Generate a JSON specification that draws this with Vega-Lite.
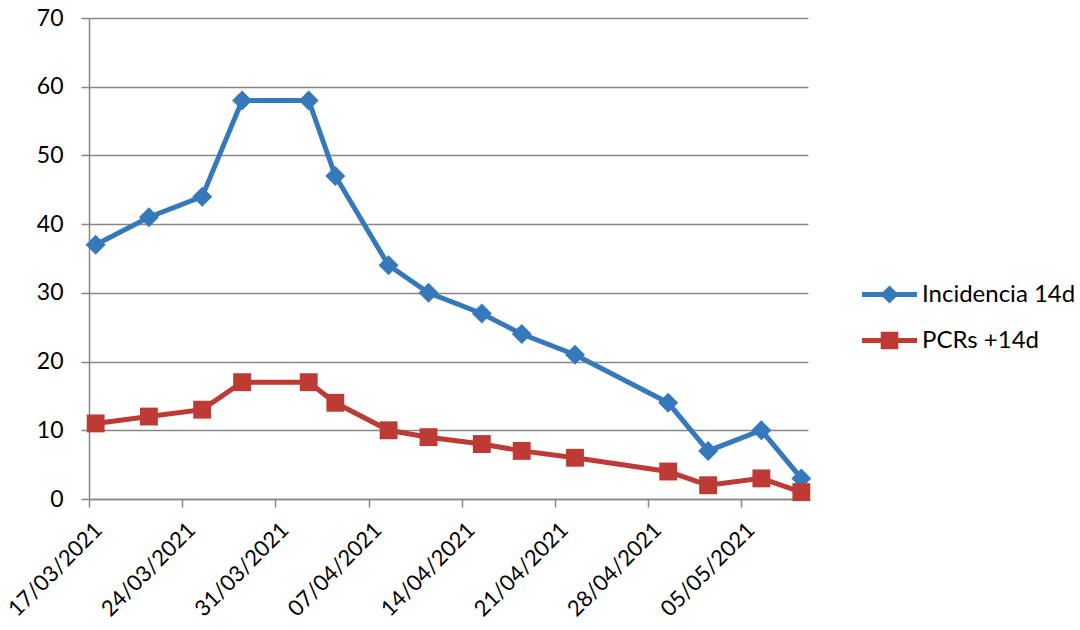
{
  "$schema": "https://vega.github.io/schema/vega-lite/v6.json",
  "width": 719,
  "height": 481,
  "autosize": {"type": "none"},
  "padding": {"left": 89, "top": 18, "right": 272, "bottom": 131},
  "background": "white",
  "config": {"view": {"stroke": null}, "font": "Lato"},
  "data": {
    "values": [
      {"date": "2021-03-17", "serie": "Incidencia 14d", "value": 37},
      {"date": "2021-03-21", "serie": "Incidencia 14d", "value": 41},
      {"date": "2021-03-25", "serie": "Incidencia 14d", "value": 44},
      {"date": "2021-03-28", "serie": "Incidencia 14d", "value": 58},
      {"date": "2021-04-02", "serie": "Incidencia 14d", "value": 58},
      {"date": "2021-04-04", "serie": "Incidencia 14d", "value": 47},
      {"date": "2021-04-08", "serie": "Incidencia 14d", "value": 34},
      {"date": "2021-04-11", "serie": "Incidencia 14d", "value": 30},
      {"date": "2021-04-15", "serie": "Incidencia 14d", "value": 27},
      {"date": "2021-04-18", "serie": "Incidencia 14d", "value": 24},
      {"date": "2021-04-22", "serie": "Incidencia 14d", "value": 21},
      {"date": "2021-04-29", "serie": "Incidencia 14d", "value": 14},
      {"date": "2021-05-02", "serie": "Incidencia 14d", "value": 7},
      {"date": "2021-05-06", "serie": "Incidencia 14d", "value": 10},
      {"date": "2021-05-09", "serie": "Incidencia 14d", "value": 3},
      {"date": "2021-03-17", "serie": "PCRs +14d", "value": 11},
      {"date": "2021-03-21", "serie": "PCRs +14d", "value": 12},
      {"date": "2021-03-25", "serie": "PCRs +14d", "value": 13},
      {"date": "2021-03-28", "serie": "PCRs +14d", "value": 17},
      {"date": "2021-04-02", "serie": "PCRs +14d", "value": 17},
      {"date": "2021-04-04", "serie": "PCRs +14d", "value": 14},
      {"date": "2021-04-08", "serie": "PCRs +14d", "value": 10},
      {"date": "2021-04-11", "serie": "PCRs +14d", "value": 9},
      {"date": "2021-04-15", "serie": "PCRs +14d", "value": 8},
      {"date": "2021-04-18", "serie": "PCRs +14d", "value": 7},
      {"date": "2021-04-22", "serie": "PCRs +14d", "value": 6},
      {"date": "2021-04-29", "serie": "PCRs +14d", "value": 4},
      {"date": "2021-05-02", "serie": "PCRs +14d", "value": 2},
      {"date": "2021-05-06", "serie": "PCRs +14d", "value": 3},
      {"date": "2021-05-09", "serie": "PCRs +14d", "value": 1}
    ]
  },
  "encoding": {
    "x": {
      "field": "date",
      "type": "temporal",
      "timeUnit": "utcyearmonthdate",
      "bandPosition": 0.5,
      "scale": {
        "type": "utc",
        "domain": [
          {"year": 2021, "month": 3, "date": 17, "utc": true},
          {"year": 2021, "month": 5, "date": 10, "utc": true}
        ]
      },
      "axis": {
        "title": null,
        "values": [
          {"year": 2021, "month": 3, "date": 17, "utc": true},
          {"year": 2021, "month": 3, "date": 24, "utc": true},
          {"year": 2021, "month": 3, "date": 31, "utc": true},
          {"year": 2021, "month": 4, "date": 7, "utc": true},
          {"year": 2021, "month": 4, "date": 14, "utc": true},
          {"year": 2021, "month": 4, "date": 21, "utc": true},
          {"year": 2021, "month": 4, "date": 28, "utc": true},
          {"year": 2021, "month": 5, "date": 5, "utc": true}
        ],
        "format": "%d/%m/%Y",
        "grid": false,
        "domainColor": "#878787",
        "domainWidth": 1.5,
        "tickColor": "#878787",
        "tickWidth": 1.5,
        "tickSize": 8,
        "labelAngle": -45,
        "labelAlign": "right",
        "labelBaseline": "top",
        "labelPadding": 12,
        "labelOffset": 2,
        "labelFontSize": 22,
        "labelFont": "Lato",
        "labelColor": "black",
        "labelFlush": false,
        "labelOverlap": false,
        "labelBound": false
      }
    },
    "y": {
      "field": "value",
      "type": "quantitative",
      "scale": {"domain": [0, 70], "nice": false},
      "axis": {
        "title": null,
        "values": [0, 10, 20, 30, 40, 50, 60, 70],
        "grid": true,
        "gridColor": "#878787",
        "gridWidth": 1.5,
        "domainColor": "#878787",
        "domainWidth": 1.5,
        "tickColor": "#878787",
        "tickWidth": 1.5,
        "tickSize": 8,
        "labelFontSize": 23,
        "labelFont": "Lato",
        "labelColor": "black",
        "labelPadding": 18
      }
    },
    "color": {
      "field": "serie",
      "type": "nominal",
      "scale": {"domain": ["Incidencia 14d", "PCRs +14d"], "range": ["#3579BA", "#BE3A34"]},
      "legend": {
        "title": null,
        "orient": "none",
        "legendX": 773,
        "legendY": 249,
        "padding": 0,
        "labelFontSize": 24,
        "labelFont": "Lato",
        "labelColor": "black",
        "labelOffset": 5,
        "rowPadding": 6,
        "symbolSize": 3025,
        "encode": {
          "symbols": {
            "update": {
              "shape": {"signal": "datum.value === 'Incidencia 14d' ? 'M-1,-0.09L-0.24,-0.09L0,-0.33L0.24,-0.09L1,-0.09L1,0.09L0.24,0.09L0,0.33L-0.24,0.09L-1,0.09Z' : 'M-1,-0.09L-0.32,-0.09L-0.32,-0.32L0.32,-0.32L0.32,-0.09L1,-0.09L1,0.09L0.32,0.09L0.32,0.32L-0.32,0.32L-0.32,0.09L-1,0.09Z'"},
              "fill": {"signal": "datum.value === 'Incidencia 14d' ? '#3579BA' : '#BE3A34'"},
              "fillOpacity": {"value": 1},
              "opacity": {"value": 1},
              "strokeWidth": {"value": 0},
              "size": {"value": 3025}
            }
          }
        }
      }
    }
  },
  "layer": [
    {"mark": {"type": "line", "strokeWidth": 5}},
    {
      "transform": [{"filter": "datum.serie === 'Incidencia 14d'"}],
      "mark": {"type": "point", "filled": true, "opacity": 1, "shape": "diamond", "size": 400}
    },
    {
      "transform": [{"filter": "datum.serie === 'PCRs +14d'"}],
      "mark": {"type": "point", "filled": true, "opacity": 1, "shape": "square", "size": 320}
    }
  ]
}
